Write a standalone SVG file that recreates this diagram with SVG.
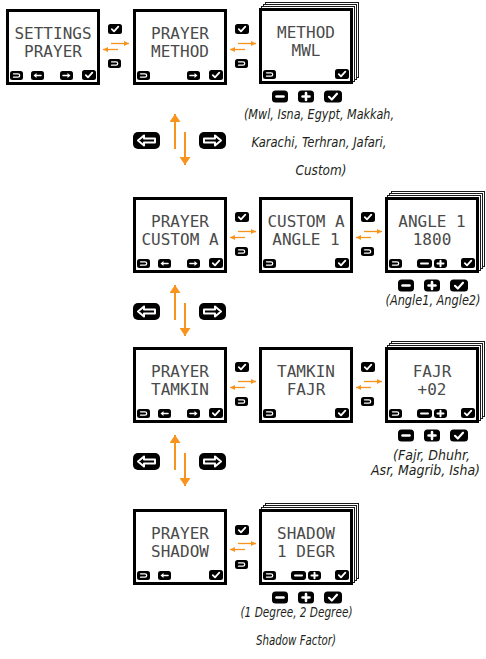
<svg xmlns="http://www.w3.org/2000/svg" width="486" height="659" viewBox="0 0 486 659">
<style>
.scr{fill:#fff;stroke:#000;stroke-width:3}
.lay{fill:#fff;stroke:#1a1a1a;stroke-width:1}
.lcd{font-family:"DejaVu Sans Mono","Liberation Mono",monospace;font-size:16px;fill:#4a4a4a;text-anchor:middle}
.cap{font-family:"DejaVu Sans Condensed","Liberation Sans",sans-serif;font-style:italic;font-size:13.5px;fill:#231f20;text-anchor:middle}
.cap2{font-family:"DejaVu Sans Condensed","Liberation Sans",sans-serif;font-style:italic;font-size:13.5px;fill:#231f20;text-anchor:middle}
.org{stroke:#F7941E;fill:none}
.w{stroke:#fff;fill:none;stroke-linecap:round;stroke-linejoin:round}
</style>
<defs>
<marker id="hs" viewBox="0 0 5 5" refX="5" refY="2.5" markerWidth="5" markerHeight="5" orient="auto" markerUnits="userSpaceOnUse"><path d="M0,0 L5,2.5 L0,5 z" fill="#F7941E"/></marker>
<marker id="hb" viewBox="0 0 8 11" refX="8" refY="5.5" markerWidth="8" markerHeight="11" orient="auto" markerUnits="userSpaceOnUse"><path d="M0,0 L8,5.5 L0,11 z" fill="#F7941E"/></marker>
<g id="i-ret"><rect width="13" height="9" rx="2.5"/><path class="w" stroke-width="1.3" d="M3.5,2.8 H8 A1.7,1.7 0 0 1 8,6.2 H3.5"/></g>
<g id="i-left"><rect width="13" height="9" rx="2.5"/><path class="w" stroke-width="1.6" d="M10,4.5 H5"/><path d="M2.5,4.5 L5.5,2 V7 z" fill="#fff"/></g>
<g id="i-right"><rect width="13" height="9" rx="2.5"/><path class="w" stroke-width="1.6" d="M3,4.5 H8"/><path d="M10.5,4.5 L7.5,2 V7 z" fill="#fff"/></g>
<g id="i-chk"><rect width="14" height="10" rx="2.5"/><path class="w" stroke-width="1.8" d="M3.8,5.2 L6,7.4 L10.3,2.6"/></g>
<g id="i-min"><rect width="15" height="9" rx="3"/><path class="w" stroke-width="2" d="M4,4.5 H11"/></g>
<g id="i-plus"><rect width="13" height="9" rx="3"/><path class="w" stroke-width="2" d="M3.5,4.5 H9.5 M6.5,1.8 V7.2"/></g>
<g id="b-min"><rect width="16" height="12" rx="3.5"/><path class="w" stroke-width="2.6" d="M4.5,6 H11.5"/></g>
<g id="b-plus"><rect width="16" height="12" rx="3.5"/><path class="w" stroke-width="2.6" d="M4.5,6 H11.5 M8,2.5 V9.5"/></g>
<g id="b-chk"><rect width="18" height="12" rx="3.5"/><path class="w" stroke-width="2.2" d="M5,6.3 L7.8,9 L13,3.2"/></g>
<g id="n-left"><rect width="27" height="17" rx="5"/><path d="M5,8.5 L11,3.5 V6.5 H22 V10.5 H11 V13.5 z" fill="#000" stroke="#fff" stroke-width="2" stroke-linejoin="round"/></g>
<g id="n-right"><rect width="27" height="17" rx="5"/><path d="M22,8.5 L16,3.5 V6.5 H5 V10.5 H16 V13.5 z" fill="#000" stroke="#fff" stroke-width="2" stroke-linejoin="round"/></g>
</defs>

<g id="connectors">
<line class="org" stroke-width="1.3" x1="111" y1="43.5" x2="129" y2="43.5" marker-end="url(#hs)"/>
<line class="org" stroke-width="1.3" x1="118" y1="49.5" x2="103" y2="49.5" marker-end="url(#hs)"/>
<line class="org" stroke-width="1.3" x1="238" y1="43.5" x2="256" y2="43.5" marker-end="url(#hs)"/>
<line class="org" stroke-width="1.3" x1="245" y1="49.5" x2="230" y2="49.5" marker-end="url(#hs)"/>
<line class="org" stroke-width="1.3" x1="238" y1="231.5" x2="256" y2="231.5" marker-end="url(#hs)"/>
<line class="org" stroke-width="1.3" x1="245" y1="237.5" x2="230" y2="237.5" marker-end="url(#hs)"/>
<line class="org" stroke-width="1.3" x1="364" y1="231.5" x2="382" y2="231.5" marker-end="url(#hs)"/>
<line class="org" stroke-width="1.3" x1="371" y1="237.5" x2="356" y2="237.5" marker-end="url(#hs)"/>
<line class="org" stroke-width="1.3" x1="238" y1="381.5" x2="256" y2="381.5" marker-end="url(#hs)"/>
<line class="org" stroke-width="1.3" x1="245" y1="387.5" x2="230" y2="387.5" marker-end="url(#hs)"/>
<line class="org" stroke-width="1.3" x1="364" y1="381.5" x2="382" y2="381.5" marker-end="url(#hs)"/>
<line class="org" stroke-width="1.3" x1="371" y1="387.5" x2="356" y2="387.5" marker-end="url(#hs)"/>
<line class="org" stroke-width="1.3" x1="238" y1="543.5" x2="256" y2="543.5" marker-end="url(#hs)"/>
<line class="org" stroke-width="1.3" x1="245" y1="549.5" x2="230" y2="549.5" marker-end="url(#hs)"/>
<line class="org" stroke-width="2" x1="175" y1="149" x2="175" y2="114" marker-end="url(#hb)"/>
<line class="org" stroke-width="2" x1="185" y1="132" x2="185" y2="165" marker-end="url(#hb)"/>
<line class="org" stroke-width="2" x1="175" y1="320" x2="175" y2="285" marker-end="url(#hb)"/>
<line class="org" stroke-width="2" x1="185" y1="303" x2="185" y2="336" marker-end="url(#hb)"/>
<line class="org" stroke-width="2" x1="175" y1="470" x2="175" y2="435" marker-end="url(#hb)"/>
<line class="org" stroke-width="2" x1="185" y1="453" x2="185" y2="486" marker-end="url(#hb)"/>
</g>

<g id="keys">
<use href="#i-chk" x="108" y="24"/><use href="#i-ret" x="108" y="59"/>
<use href="#i-chk" x="235" y="24"/><use href="#i-ret" x="235" y="59"/>
<use href="#i-chk" x="235" y="212"/><use href="#i-ret" x="235" y="247"/>
<use href="#i-chk" x="361" y="212"/><use href="#i-ret" x="361" y="247"/>
<use href="#i-chk" x="235" y="362"/><use href="#i-ret" x="235" y="397"/>
<use href="#i-chk" x="361" y="362"/><use href="#i-ret" x="361" y="397"/>
<use href="#i-chk" x="235" y="525"/><use href="#i-ret" x="235" y="560"/>
<use href="#n-left" x="133" y="132"/><use href="#n-right" x="199" y="132"/>
<use href="#n-left" x="133" y="303"/><use href="#n-right" x="199" y="303"/>
<use href="#n-left" x="133" y="453"/><use href="#n-right" x="199" y="453"/>
</g>

<g id="settings-prayer">
<rect class="scr" x="7.5" y="10.5" width="91" height="73"/>
<text class="lcd" x="53" y="39">SETTINGS</text>
<text class="lcd" x="53" y="56.5">PRAYER</text>
<use href="#i-ret" x="10" y="71"/><use href="#i-left" x="31" y="71"/><use href="#i-right" x="60" y="71"/><use href="#i-chk" x="82" y="70"/>
</g>

<g id="prayer-method">
<rect class="scr" x="134.5" y="10.5" width="91" height="73"/>
<text class="lcd" x="180" y="39">PRAYER</text>
<text class="lcd" x="180" y="56.5">METHOD</text>
<use href="#i-ret" x="137" y="71"/><use href="#i-right" x="187" y="71"/><use href="#i-chk" x="209" y="70"/>
</g>

<g id="method-mwl">
<rect class="lay" x="265.5" y="2.5" width="93" height="75"/>
<rect class="lay" x="263.5" y="4.5" width="93" height="75"/>
<rect class="lay" x="261.5" y="6.5" width="93" height="75"/>
<rect class="scr" x="260.5" y="9.5" width="91" height="73"/>
<text class="lcd" x="306" y="38">METHOD</text>
<text class="lcd" x="306" y="55.5">MWL</text>
<use href="#i-ret" x="263" y="70"/><use href="#i-chk" x="335" y="69"/>
<use href="#b-min" x="272" y="90.5"/><use href="#b-plus" x="298" y="90.5"/><use href="#b-chk" x="324" y="90.5"/>
<text class="cap" x="319" y="119" textLength="150" lengthAdjust="spacingAndGlyphs">(Mwl, Isna, Egypt, Makkah,</text>
<text class="cap" x="319" y="147" textLength="135" lengthAdjust="spacingAndGlyphs">Karachi, Terhran, Jafari,</text>
<text class="cap" x="321" y="175" textLength="51" lengthAdjust="spacingAndGlyphs">Custom)</text>
</g>

<g id="prayer-custom">
<rect class="scr" x="134.5" y="198.5" width="91" height="73"/>
<text class="lcd" x="180" y="227">PRAYER</text>
<text class="lcd" x="180" y="244.5">CUSTOM A</text>
<use href="#i-ret" x="137" y="259"/><use href="#i-left" x="158" y="259"/><use href="#i-right" x="187" y="259"/><use href="#i-chk" x="209" y="258"/>
</g>

<g id="custom-angle">
<rect class="scr" x="260.5" y="198.5" width="91" height="73"/>
<text class="lcd" x="306" y="227">CUSTOM A</text>
<text class="lcd" x="306" y="244.5">ANGLE 1</text>
<use href="#i-ret" x="263" y="259"/><use href="#i-chk" x="335" y="258"/>
</g>

<g id="angle-value">
<rect class="lay" x="391.5" y="191.5" width="93" height="75"/>
<rect class="lay" x="389.5" y="193.5" width="93" height="75"/>
<rect class="lay" x="387.5" y="195.5" width="93" height="75"/>
<rect class="scr" x="386.5" y="198.5" width="91" height="73"/>
<text class="lcd" x="432" y="227">ANGLE 1</text>
<text class="lcd" x="432" y="244.5">1800</text>
<use href="#i-ret" x="389" y="259"/><use href="#i-min" x="417" y="259"/><use href="#i-plus" x="434" y="259"/><use href="#i-chk" x="461" y="258"/>
<use href="#b-min" x="398" y="279.5"/><use href="#b-plus" x="424" y="279.5"/><use href="#b-chk" x="450" y="279.5"/>
<text class="cap" x="433" y="305" textLength="95" lengthAdjust="spacingAndGlyphs">(Angle1, Angle2)</text>
</g>

<g id="prayer-tamkin">
<rect class="scr" x="134.5" y="348.5" width="91" height="73"/>
<text class="lcd" x="180" y="377">PRAYER</text>
<text class="lcd" x="180" y="394.5">TAMKIN</text>
<use href="#i-ret" x="137" y="409"/><use href="#i-left" x="158" y="409"/><use href="#i-right" x="187" y="409"/><use href="#i-chk" x="209" y="408"/>
</g>

<g id="tamkin-fajr">
<rect class="scr" x="260.5" y="348.5" width="91" height="73"/>
<text class="lcd" x="306" y="377">TAMKIN</text>
<text class="lcd" x="306" y="394.5">FAJR</text>
<use href="#i-ret" x="263" y="409"/><use href="#i-chk" x="335" y="408"/>
</g>

<g id="fajr-value">
<rect class="lay" x="391.5" y="341.5" width="93" height="75"/>
<rect class="lay" x="389.5" y="343.5" width="93" height="75"/>
<rect class="lay" x="387.5" y="345.5" width="93" height="75"/>
<rect class="scr" x="386.5" y="348.5" width="91" height="73"/>
<text class="lcd" x="432" y="377">FAJR</text>
<text class="lcd" x="432" y="394.5">+02</text>
<use href="#i-ret" x="389" y="409"/><use href="#i-min" x="417" y="409"/><use href="#i-plus" x="434" y="409"/><use href="#i-chk" x="461" y="408"/>
<use href="#b-min" x="398" y="429.5"/><use href="#b-plus" x="424" y="429.5"/><use href="#b-chk" x="450" y="429.5"/>
<text class="cap" x="431.5" y="460" textLength="77" lengthAdjust="spacingAndGlyphs">(Fajr, Dhuhr,</text>
<text class="cap" x="425.5" y="475" textLength="109" lengthAdjust="spacingAndGlyphs">Asr, Magrib, Isha)</text>
</g>

<g id="prayer-shadow">
<rect class="scr" x="134.5" y="510.5" width="91" height="73"/>
<text class="lcd" x="180" y="539">PRAYER</text>
<text class="lcd" x="180" y="556.5">SHADOW</text>
<use href="#i-ret" x="137" y="571"/><use href="#i-left" x="158" y="571"/><use href="#i-chk" x="209" y="570"/>
</g>

<g id="shadow-value">
<rect class="lay" x="265.5" y="503.5" width="93" height="75"/>
<rect class="lay" x="263.5" y="505.5" width="93" height="75"/>
<rect class="lay" x="261.5" y="507.5" width="93" height="75"/>
<rect class="scr" x="260.5" y="510.5" width="91" height="73"/>
<text class="lcd" x="306" y="539">SHADOW</text>
<text class="lcd" x="306" y="556.5">1 DEGR</text>
<use href="#i-ret" x="263" y="571"/><use href="#i-min" x="291" y="571"/><use href="#i-plus" x="308" y="571"/><use href="#i-chk" x="335" y="570"/>
<use href="#b-min" x="272" y="591.5"/><use href="#b-plus" x="298" y="591.5"/><use href="#b-chk" x="324" y="591.5"/>
<text class="cap2" x="296.5" y="617" textLength="112" lengthAdjust="spacingAndGlyphs">(1 Degree, 2 Degree)</text>
<text class="cap2" x="296" y="645" textLength="80" lengthAdjust="spacingAndGlyphs">Shadow Factor)</text>
</g>
</svg>
